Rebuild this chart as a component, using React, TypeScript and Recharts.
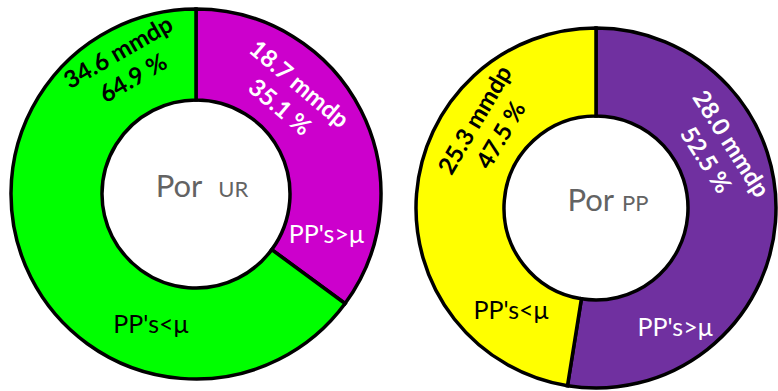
import { PieChart, Pie, Cell } from 'recharts'

const categories = ["PP's>μ", "PP's<μ"]
const urValues = [18.7, 34.6]
const ppValues = [28.0, 25.3]
const urColors = ['#CC00CC', '#00FF00']
const ppColors = ['#7030A0', '#FFFF00']
const textColors = ['#ffffff', '#000000']

const urData = categories.map((name, i) => ({ name, value: urValues[i] }))
const ppData = categories.map((name, i) => ({ name, value: ppValues[i] }))

// label placement: angle clockwise from 12 o'clock, distance from centre, text rotation
type Place = { angle: number; r: number; rot: number }
const urValuePlace: Place[] = [
  { angle: 43.5, r: 137, rot: 40 },
  { angle: 331.4, r: 148, rot: -30 },
]
const urNamePlace: Place[] = [
  { angle: 106.7, r: 136, rot: 0 },
  { angle: 199.2, r: 137, rot: 0 },
]
const ppValuePlace: Place[] = [
  { angle: 65.3, r: 136, rot: 57.5 },
  { angle: 306.6, r: 136, rot: -59.5 },
]
const ppNamePlace: Place[] = [
  { angle: 146.2, r: 142, rot: 0 },
  { angle: 220.1, r: 132, rot: 0 },
]

const FONT = 'Lato, "Open Sans", sans-serif'

function polar(cx: number, cy: number, angle: number, r: number) {
  const a = (angle * Math.PI) / 180
  return [cx + r * Math.sin(a), cy - r * Math.cos(a)]
}

function makeLabel(valuePlace: Place[], namePlace: Place[], title: string, gap: number, shift: number) {
  return (props: any) => {
    const { cx, cy, index, value, percent, name } = props
    const vp = valuePlace[index]
    const np = namePlace[index]
    const [vx, vy] = polar(cx, cy, vp.angle, vp.r)
    const [nx, ny] = polar(cx, cy, np.angle, np.r)
    const color = textColors[index]
    return (
      <g>
        <g transform={`translate(${vx},${vy}) rotate(${vp.rot})`}>
          <text x={0} y={-15} textAnchor="middle" dominantBaseline="central" fill={color}
            fontFamily={FONT} fontWeight="bold" fontSize={24}>
            {`${value.toFixed(1)} mmdp`}
          </text>
          <text x={0} y={15} textAnchor="middle" dominantBaseline="central" fill={color}
            fontFamily={FONT} fontWeight="bold" fontSize={24}>
            {`${(percent * 100).toFixed(1)} %`}
          </text>
        </g>
        <text x={nx} y={ny} textAnchor="middle" dominantBaseline="central" fill={color}
          fontFamily={FONT} fontSize={25}>
          {name}
        </text>
        {index === 0 && (
          <text x={cx + shift} y={cy + 3} textAnchor="middle" fill="#636363" fontFamily={FONT}>
            <tspan fontSize={31}>Por</tspan>
            <tspan fontSize={22} dx={gap}>{title}</tspan>
          </text>
        )}
      </g>
    )
  }
}

export default function App() {
  return (
    <div style={{ position: 'absolute', left: 0, top: 0, background: '#fff' }}>
      <PieChart width={778} height={391} margin={{ top: 0, right: 0, bottom: 0, left: 0 }}>
        <Pie
          data={urData}
          dataKey="value"
          nameKey="name"
          cx={196}
          cy={194}
          innerRadius={94}
          outerRadius={185}
          startAngle={90}
          endAngle={-270}
          stroke="#000"
          strokeWidth={3.5}
          label={makeLabel(urValuePlace, urNamePlace, 'UR', 16, 6)}
          labelLine={false}
          isAnimationActive={false}
        >
          {urData.map((d, i) => (
            <Cell key={d.name} fill={urColors[i]} stroke="#000" strokeWidth={3.5} />
          ))}
        </Pie>
        <Pie
          data={ppData}
          dataKey="value"
          nameKey="name"
          cx={596}
          cy={208}
          innerRadius={92}
          outerRadius={180}
          startAngle={90}
          endAngle={-270}
          stroke="#000"
          strokeWidth={3.5}
          label={makeLabel(ppValuePlace, ppNamePlace, 'PP', 8, 12)}
          labelLine={false}
          isAnimationActive={false}
        >
          {ppData.map((d, i) => (
            <Cell key={d.name} fill={ppColors[i]} stroke="#000" strokeWidth={3.5} />
          ))}
        </Pie>
      </PieChart>
    </div>
  )
}
